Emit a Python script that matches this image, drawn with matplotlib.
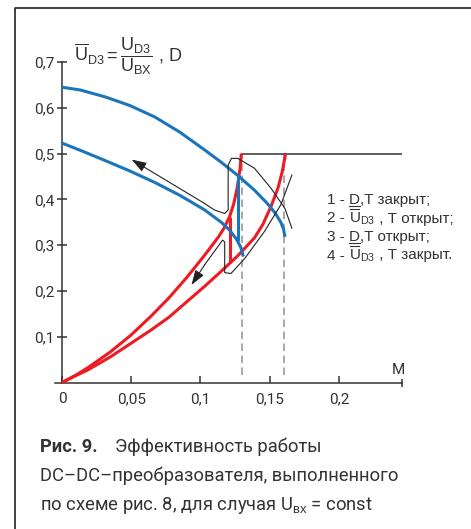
import matplotlib
matplotlib.use('Agg')
import matplotlib.pyplot as plt
from matplotlib.lines import Line2D

plt.rcParams['font.family'] = ['Roboto', 'DejaVu Sans']
plt.rcParams['mathtext.fontset'] = 'custom'
plt.rcParams['mathtext.rm'] = 'Liberation Sans'
plt.rcParams['mathtext.it'] = 'Liberation Sans:italic'
plt.rcParams['mathtext.bf'] = 'Liberation Sans:bold'

# curves (M, value)
blue1_m = [0, 0.013, 0.031, 0.049, 0.067, 0.085, 0.103, 0.115, 0.127, 0.139, 0.148, 0.154, 0.158, 0.160, 0.161]
blue1_v = [0.645, 0.639, 0.624, 0.605, 0.580, 0.547, 0.508, 0.481, 0.452, 0.420, 0.392, 0.370, 0.350, 0.335, 0.318]
blue2_m = [0, 0.015, 0.031, 0.049, 0.067, 0.085, 0.103, 0.115, 0.121, 0.126, 0.129, 0.131]
blue2_v = [0.523, 0.505, 0.485, 0.462, 0.437, 0.409, 0.377, 0.350, 0.333, 0.313, 0.296, 0.275]
blue_jump_m = [0.127, 0.127]
blue_jump_v = [0.452, 0.309]

red1_m = [0, 0.010, 0.019, 0.035, 0.050, 0.064, 0.077, 0.090, 0.103, 0.113, 0.117, 0.121, 0.124, 0.1265, 0.1285, 0.1295]
red1_v = [0, 0.016, 0.033, 0.067, 0.104, 0.144, 0.184, 0.229, 0.278, 0.318, 0.337, 0.362, 0.390, 0.425, 0.465, 0.50]
red2_m = [0, 0.010, 0.019, 0.035, 0.050, 0.064, 0.077, 0.090, 0.103, 0.115, 0.127, 0.139, 0.145, 0.151, 0.156, 0.159, 0.1615]
red2_v = [0, 0.015, 0.028, 0.056, 0.086, 0.114, 0.142, 0.176, 0.210, 0.243, 0.277, 0.316, 0.345, 0.385, 0.425, 0.460, 0.50]
red_jump_m = [0.121, 0.121]
red_jump_v = [0.362, 0.260]

limit_m = [0.13, 0.2516]
limit_v = [0.5, 0.5]
dash_m = [0.13, 0.16]
dash_v = [0.016, 0.5]

# hand drawn loops with arrows (tail ... tip)
loop1_m = [0.166, 0.161, 0.151, 0.139, 0.127, 0.1224, 0.120, 0.120, 0.1175, 0.110, 0.103, 0.0503]
loop1_v = [0.337, 0.380, 0.424, 0.468, 0.4895, 0.4895, 0.475, 0.377, 0.369, 0.377, 0.391, 0.487]
loop2_m = [0.166, 0.158, 0.146, 0.132, 0.122, 0.1175, 0.1175, 0.116, 0.103, 0.0935]
loop2_v = [0.453, 0.388, 0.329, 0.271, 0.238, 0.240, 0.307, 0.311, 0.257, 0.213]

xticks = [0, 0.05, 0.1, 0.15, 0.2]
xlabels = ['0', '0,05', '0,1', '0,15', '0,2']
yticks = [0.1, 0.2, 0.3, 0.4, 0.5, 0.6, 0.7]
ylabels = ['0,1', '0,2', '0,3', '0,4', '0,5', '0,6', '0,7']
x_end = 0.2455

# legend pieces: (text, decoration); D underlined, U overlined
UD3 = r'$\mathrm{U}_{\mathrm{D3}}$'
legend_lines = [[('1 - ', None), ('D', 'under'), (',T закрыт;', None)],
                [('2 - ', None), (UD3, 'over'), (' , Т открыт;', None)],
                [('3 - ', None), ('D', 'under'), (',T открыт;', None)],
                [('4 - ', None), (UD3, 'over'), (' , Т закрыт.', None)]]

BLUE = '#1b75bb'
RED = '#ed1c24'
DARK = '#333333'

fig = plt.figure(figsize=(4.71, 5.29), dpi=100)
ax = fig.add_axes([0.1168, 0.2769, 0.7367, 0.6059])
ax.set_xlim(-0.005, x_end)
ax.set_ylim(0, 0.7)

ax.plot(dash_m[:1] * 2, dash_v, color='#9a9a9a', lw=1.2, dashes=(4.5, 2.7), zorder=1)
ax.plot(dash_m[1:] * 2, dash_v, color='#9a9a9a', lw=1.2, dashes=(4.5, 2.7), zorder=1)
ax.plot(limit_m, limit_v, color=DARK, lw=1.1, zorder=2)

for m, v in [(red1_m, red1_v), (red2_m, red2_v), (red_jump_m, red_jump_v)]:
    ax.plot(m, v, color=RED, lw=2.2, solid_capstyle='butt', solid_joinstyle='round',
            clip_on=False, zorder=3)
for m, v in [(blue1_m, blue1_v), (blue2_m, blue2_v), (blue_jump_m, blue_jump_v)]:
    ax.plot(m, v, color=BLUE, lw=2.2, solid_capstyle='butt', solid_joinstyle='round',
            clip_on=False, zorder=4)

for m, v in [(loop1_m, loop1_v), (loop2_m, loop2_v)]:
    ax.plot(m[:-1], v[:-1], color='#222222', lw=0.8, solid_joinstyle='round', zorder=5)
    ax.annotate('', xy=(m[-1], v[-1]), xytext=(m[-2], v[-2]),
                arrowprops=dict(arrowstyle='-|>,head_length=0.9,head_width=0.3', color='#222222',
                                lw=0.8, shrinkA=0, shrinkB=0), zorder=5)

for s in ['top', 'right']:
    ax.spines[s].set_visible(False)
ax.spines['left'].set_position(('data', 0))
ax.spines['left'].set_bounds(0, 0.7)
for s in ['left', 'bottom']:
    ax.spines[s].set_color(DARK)
    ax.spines[s].set_linewidth(1.1)

ax.set_xticks(xticks)
ax.set_xticklabels(xlabels)
ax.set_yticks(yticks)
ax.set_yticklabels(ylabels)
ax.set_xticks([x_end], minor=True)
ax.tick_params(axis='x', direction='in', length=5, width=1.1, color=DARK, pad=7,
               labelsize=11, labelcolor=DARK)
ax.tick_params(axis='x', which='minor', direction='inout', length=6, width=1.1, color=DARK)
ax.tick_params(axis='y', direction='inout', length=7, width=1.1, color=DARK, pad=2,
               labelsize=11, labelcolor=DARK)

fig.text(398 / 471, 1 - 370 / 529, 'M', fontsize=11, color=DARK, ha='center', va='center')
fig.text(74 / 471, 1 - 56 / 529,
         r'$\overline{\mathrm{U}}_{\mathrm{D3}} = \dfrac{\mathrm{U}_{\mathrm{D3}}}{\mathrm{U}_{\mathrm{BX}}}$ , D',
         fontsize=13, color=DARK, ha='left', va='center', family='Liberation Sans')

# legend text, built piece by piece so D / U can get their lines
renderer = fig.canvas.get_renderer()
inv = fig.transFigure.inverted()
leg_size = 11
tmp = fig.text(0, 0, 'U', fontsize=leg_size, family='Liberation Sans')
u_w = tmp.get_window_extent(renderer=renderer).width / 471
tmp.remove()
for i, pieces in enumerate(legend_lines):
    x = 327 / 471
    y = 1 - (204 + 18.5 * i) / 529
    for piece, deco in pieces:
        t = fig.text(x, y, piece, fontsize=leg_size, color=DARK, ha='left', va='baseline',
                     family='Liberation Sans')
        bb = t.get_window_extent(renderer=renderer)
        x0 = inv.transform((bb.x0, bb.y0))[0]
        x1 = inv.transform((bb.x1, bb.y0))[0]
        if deco == 'under':
            fig.add_artist(Line2D([x0, x1], [y - 2.2 / 529] * 2, color=DARK, lw=0.8))
        if deco == 'over':
            fig.add_artist(Line2D([x0 + 0.6 / 471, x0 + u_w - 0.6 / 471], [y + 13.5 / 529] * 2,
                                  color=DARK, lw=0.8))
        x = x1

# frame around figure and caption
fig.add_artist(Line2D([15 / 471, 15 / 471, 1.0], [0.0, 1 - 8 / 529, 1 - 8 / 529],
                      color=DARK, lw=1.3))

cap_size = 13.2
fig.text(40 / 471, 1 - 447 / 529, 'Рис. 9.', fontsize=cap_size, fontweight='bold',
         color=DARK, ha='left', va='center')
fig.text(115 / 471, 1 - 447 / 529, 'Эффективность работы', fontsize=cap_size,
         color=DARK, ha='left', va='center')
fig.text(40 / 471, 1 - 476 / 529, 'DC–DC–преобразователя, выполненного', fontsize=cap_size,
         color=DARK, ha='left', va='center')
fig.text(40 / 471, 1 - 506 / 529, r'по схеме рис. 8, для случая U$_{\mathrm{вх}}$ = const',
         fontsize=cap_size, color=DARK, ha='left', va='center')

fig.savefig('out.png', dpi=100)
